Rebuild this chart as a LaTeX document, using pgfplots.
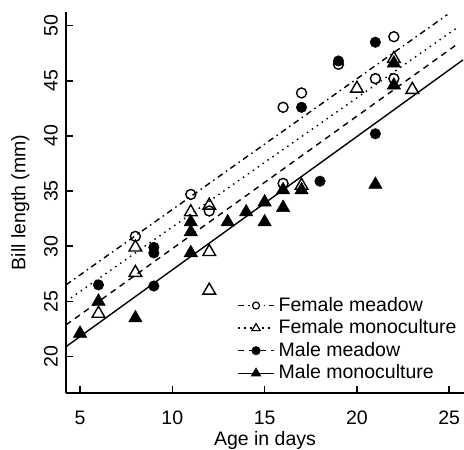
\documentclass[border=0pt]{standalone}
\usepackage{fontspec}
\setmainfont{Liberation Sans}
\usepackage{pgfplots}
\pgfplotsset{compat=1.18}

\pgfplotsset{
  fmline/.style={black, line width=1.4pt, dash pattern=on 6pt off 4pt on 1.5pt off 4pt},
  fcline/.style={black, line width=1.4pt, dash pattern=on 1.5pt off 4.5pt},
  mmline/.style={black, line width=1.4pt, dash pattern=on 6pt off 5pt},
  mcline/.style={black, line width=1.4pt, solid},
}

\begin{document}
\fontsize{19.5}{23}\selectfont
\begin{tikzpicture}
\useasboundingbox (-66pt,-57pt) rectangle (398pt,393pt);
\begin{axis}[
  at={(0pt,0pt)}, anchor=south west,
  scale only axis, width=398pt, height=381pt,
  xmin=4.24, xmax=25.8, ymin=16.7, ymax=51.24,
  axis lines*=left,
  axis line style={line width=1.8pt},
  xtick={5,10,...,25}, ytick={20,25,...,50},
  tick align=inside, major tick length=7pt,
  tick style={black, line width=1.6pt},
  /pgf/number format/assume math mode=true,
  tick label style={font=\fontsize{19.5}{23}\selectfont},
  xticklabel style={inner sep=0pt},
  xticklabel shift=18pt,
  yticklabel style={rotate=90, anchor=south, inner sep=0pt},
  yticklabel shift=8pt,
  xlabel={Age in days},
  ylabel={Bill length (mm)},
  label style={font=\fontsize{19.5}{23}\selectfont},
  xlabel style={at={(axis description cs:0.5,-0.125)}, anchor=center},
  ylabel style={at={(axis description cs:-0.115,0.5)}, anchor=center},
  clip=false,
  legend cell align=left,
  legend style={at={(axis description cs:0.43,0.255)}, anchor=north west,
    draw=none, fill=none, inner sep=0pt, row sep=3.5pt,
    font=\fontsize{19.5}{23}\selectfont,
    nodes={inner sep=1pt},
    /tikz/column 1/.style={column sep=3pt}},
]
% fitted lines
\addplot[fmline,
  legend image code/.code={\draw (0pt,0pt) -- (36pt,0pt);
    \draw[solid, line width=1.2pt, fill=white] (18pt,0pt) circle (3.5pt);}]
  coordinates {(4.24,26.5) (24.9,51.0)};
\addlegendentry{Female meadow}
\addplot[fcline,
  legend image code/.code={\draw (0pt,0pt) -- (36pt,0pt);
    \draw[solid, line width=1.2pt, fill=white] (18pt,4.5pt) -- (13.8pt,-2.5pt) -- (22.2pt,-2.5pt) -- cycle;}]
  coordinates {(4.24,25.0) (25.5,49.9)};
\addlegendentry{Female monoculture}
\addplot[mmline,
  legend image code/.code={\draw (0pt,0pt) -- (36pt,0pt);
    \draw[solid, fill=black] (18pt,0pt) circle (3.8pt);}]
  coordinates {(4.24,22.87) (25.5,48.4)};
\addlegendentry{Male meadow}
\addplot[mcline,
  legend image code/.code={\draw (0pt,0pt) -- (36pt,0pt);
    \draw[solid, fill=black] (18pt,4.5pt) -- (13.8pt,-2.5pt) -- (22.2pt,-2.5pt) -- cycle;}]
  coordinates {(4.24,20.9) (25.75,46.9)};
\addlegendentry{Male monoculture}

% female meadow
\addplot[forget plot, only marks, mark=o, mark size=5pt, line width=1.4pt, black]
  coordinates {(8,30.9) (11,34.7) (12,33.2) (16,35.7) (16,42.6) (17,43.9)
               (19,46.5) (21,45.2) (22,49.0) (22,45.2)};
% female monoculture
\addplot[forget plot, only marks, mark=triangle, mark size=7.3pt, line width=1.4pt, black]
  coordinates {(6,23.9) (8,29.9) (8,27.6) (11,33.1) (12,33.7) (12,29.5) (12,26.0)
               (17,35.5) (20,44.3) (22,47.0) (23,44.2)};
% male meadow
\addplot[forget plot, only marks, mark=*, mark size=5.3pt, black]
  coordinates {(6,26.5) (9,29.9) (9,29.4) (9,26.4) (17,42.6) (18,35.9)
               (19,46.8) (21,48.5) (21,40.2)};
% male monoculture
\addplot[forget plot, only marks, mark=triangle*, mark size=7.8pt, black]
  coordinates {(5,22.1) (6,25.0) (8,23.5) (11,29.4) (11,31.3) (11,32.2) (13,32.2)
               (14,33.1) (15,34.0) (15,32.2) (16,33.5) (16,35.1) (17,35.1)
               (21,35.6) (22,46.6) (22,44.6)};
\end{axis}
\end{tikzpicture}
\end{document}
